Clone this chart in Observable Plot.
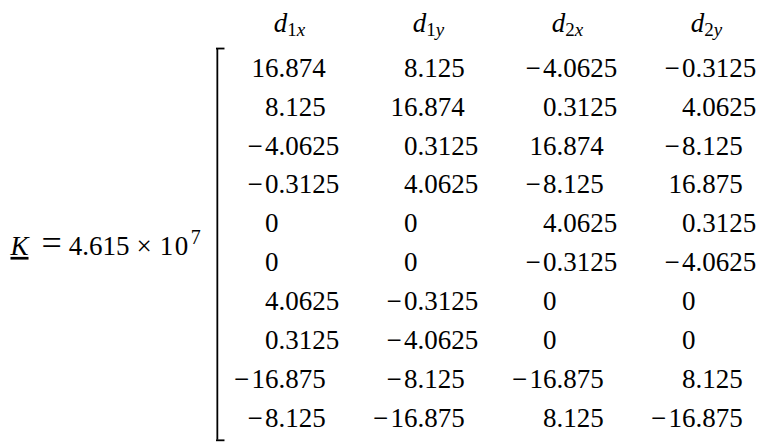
<!DOCTYPE html>
<html lang="en">
<head>
<meta charset="UTF-8">
<title>Stiffness matrix K</title>
<script src="https://cdn.jsdelivr.net/npm/d3@7"></script>
<script src="https://cdn.jsdelivr.net/npm/@observablehq/plot@0.6"></script>
<style>
  body { margin: 0; background: #fff; }
  #chart svg { display: block; }
</style>
</head>
<body>
<div id="chart"></div>
<script>
// column headers (degrees of freedom)
const columns = ["d1x", "d1y", "d2x", "d2y"];

// matrix columns, top to bottom
const colD1x = [16.874, 8.125, -4.0625, -0.3125, 0, 0, 4.0625, 0.3125, -16.875, -8.125];
const colD1y = [8.125, 16.874, 0.3125, 4.0625, 0, 0, -0.3125, -4.0625, -8.125, -16.875];
const colD2x = [-4.0625, 0.3125, 16.874, -8.125, 4.0625, -0.3125, 0, 0, -16.875, 8.125];
const colD2y = [-0.3125, 4.0625, -8.125, 16.875, 0.3125, -4.0625, 0, 0, 8.125, -16.875];

const factor = "4.615";
const exponent = "7";

const colValues = [colD1x, colD1y, colD2x, colD2y];
const nRows = colD1x.length;

// split each number at the decimal point so columns line up on it
const cells = colValues.flatMap((vals, j) => vals.map((v, i) => {
  const [whole, frac] = String(Math.abs(v)).split(".");
  return {
    col: j,
    row: i,
    whole: (v < 0 ? "\u2212\u200a" : "") + whole,
    frac: frac ? "." + frac : ""
  };
}));

const font = "Liberation Serif, Times New Roman, serif";

const chart = Plot.plot({
  width: 764,
  height: 445,
  margin: 0,
  x: { type: "linear", domain: [0, columns.length - 1], range: [278, 695], axis: null },
  y: { type: "linear", domain: [0, nRows - 1], range: [67.5, 418], axis: null },
  style: { background: "#fff", fontFamily: font },
  marks: [
    // left bracket
    Plot.ruleX([-0.44], { y1: -0.5, y2: nRows - 0.44, stroke: "#000", strokeWidth: 1.8 }),
    Plot.ruleY([-0.5, nRows - 0.44], { x1: -0.446, x2: -0.385, stroke: "#000", strokeWidth: 1.8 }),
    // integer part, right aligned on the decimal point
    Plot.text(cells, { x: "col", y: "row", text: "whole", textAnchor: "end", fontSize: 27, fill: "#000" }),
    // fractional part
    Plot.text(cells, { x: "col", y: "row", text: "frac", textAnchor: "start", fontSize: 27, fill: "#000" }),
    // headers
    Plot.text(columns, { x: (d, i) => i, y: -1.15, text: d => d, dx: 11, textAnchor: "middle", fontSize: 27, fill: "#000" }),
    // K label
    Plot.text([factor], { frameAnchor: "left", y: 4.5, dy: 3, dx: 10, text: d => d, textAnchor: "start", fontSize: 27, fill: "#000" })
  ]
});

// rich text: italic d with subscript
d3.select(chart).selectAll("text")
  .filter(function () { return columns.includes(this.textContent); })
  .each(function () {
    const s = this.textContent;
    const t = d3.select(this).text("");
    t.append("tspan").attr("font-style", "italic").text(s[0]);
    t.append("tspan").attr("font-size", 19).attr("dy", "0.22em").text(s[1]);
    t.append("tspan").attr("font-size", 19).attr("font-style", "italic").text(s[2]);
  });

// K = factor x 10^exponent, with math-like spacing
d3.select(chart).selectAll("text")
  .filter(function () { return this.textContent === factor; })
  .each(function () {
    const t = d3.select(this).text("");
    t.append("tspan").attr("font-style", "italic").attr("text-decoration", "underline").text("K");
    t.append("tspan").attr("dx", 13).attr("font-size", 36).text("=");
    t.append("tspan").attr("dx", 7).text(factor);
    t.append("tspan").attr("dx", 7).text("\u00d7");
    t.append("tspan").attr("dx", 8).attr("letter-spacing", 1.5).text("10");
    t.append("tspan").attr("dx", 1).attr("font-size", 20).attr("dy", "-0.55em").text(exponent);
  });

document.querySelector("#chart").append(chart);
</script>
</body>
</html>
